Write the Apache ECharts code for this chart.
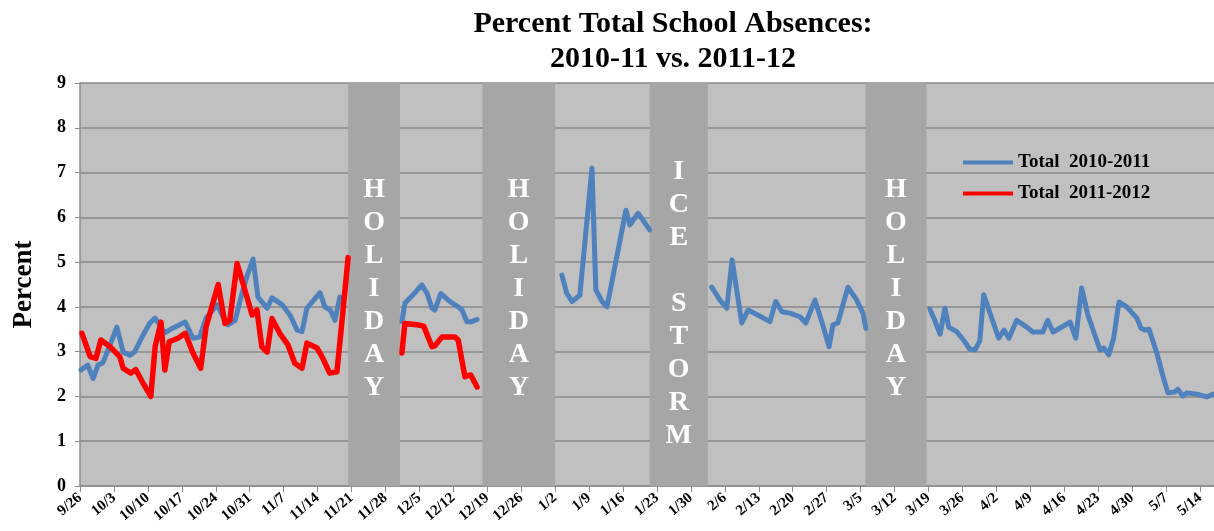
<!DOCTYPE html>
<html>
<head>
<meta charset="utf-8">
<script src="https://cdn.jsdelivr.net/npm/echarts@6/dist/echarts.min.js"></script>
<style>
html,body{margin:0;padding:0;background:#fff;}
#chart{width:1214px;height:531px;}
</style>
</head>
<body>
<div id="chart"></div>
<script>
// x values are day offsets from 9/26 (axis origin); one tick label per week
const weekLabels = ['9/26','10/3','10/10','10/17','10/24','10/31','11/7','11/14','11/21','11/28','12/5','12/12','12/19','12/26','1/2','1/9','1/16','1/23','1/30','2/6','2/13','2/20','2/27','3/5','3/12','3/19','3/26','4/2','4/9','4/16','4/23','4/30','5/7','5/14'];

// Total 2010-2011 (blue), in segments separated by breaks
const blueDays1 = [0.2,1.6,2.7,3.7,4.7,6.2,7.6,8.9,10.3,11.3,13.0,14.4,15.5,17.5,19.2,21.7,23.3,24.7,26.0,28.3,29.3,30.5,32.0,33.4,34.4,35.7,36.7,38.6,39.6,41.7,43.3,44.8,45.8,46.8,49.5,50.5,51.6,52.6,53.6];
const blueVals1 = [2.59,2.7,2.4,2.7,2.75,3.15,3.55,2.99,2.92,3.0,3.37,3.64,3.75,3.42,3.53,3.66,3.3,3.33,3.75,4.05,3.82,3.6,3.7,4.3,4.67,5.07,4.22,3.97,4.2,4.05,3.82,3.48,3.45,3.97,4.32,4.0,3.93,3.7,4.22];
const blueDays2 = [66.4,67.0,68.7,70.5,71.6,72.6,73.2,74.4,76.3,78.0,78.8,79.8,80.8,81.9];
const blueVals2 = [3.67,4.08,4.27,4.49,4.3,3.97,3.93,4.3,4.12,4.0,3.93,3.67,3.67,3.72];
const blueDays3 = [99.4,100.4,101.5,103.1,105.6,106.4,107.7,108.7,112.6,113.4,115.1,116.1,117.5];
const blueVals3 = [4.71,4.3,4.12,4.26,7.1,4.38,4.12,4.0,6.16,5.83,6.09,5.94,5.72];
const blueDays4 = [130.3,132.0,133.4,134.5,136.5,137.8,139.8,142.3,143.5,144.8,146.4,148.5,149.7,151.6,153.0,154.5,155.3,156.3,158.4,160.2,161.5,162.1];
const blueVals4 = [4.44,4.15,3.97,5.05,3.64,3.93,3.82,3.67,4.12,3.89,3.86,3.78,3.64,4.15,3.67,3.11,3.6,3.64,4.44,4.15,3.86,3.52];
const blueDays5 = [175.3,176.3,177.4,178.4,179.2,180.9,182.5,183.5,184.6,185.6,186.4,187.7,189.5,190.6,191.6,193.2,195.3,196.5,198.6,199.6,200.7,202.5,204.2,205.4,206.6,207.9,209.1,210.4,211.2,212.2,213.2,214.3,215.9,218.0,218.8,219.6,220.5,222.1,223.4,224.4,225.8,226.4,227.5,228.3,230.4,232.4,233.7];
const blueVals5 = [3.95,3.7,3.39,3.97,3.55,3.44,3.22,3.06,3.04,3.24,4.27,3.86,3.3,3.48,3.3,3.7,3.55,3.44,3.44,3.7,3.44,3.55,3.66,3.3,4.42,3.82,3.44,3.04,3.08,2.93,3.3,4.11,4.0,3.75,3.53,3.48,3.5,2.97,2.44,2.08,2.1,2.16,2.01,2.08,2.05,1.99,2.05];

// Total 2011-2012 (red)
const redDays1 = [0.4,2.1,3.3,4.3,6.2,8.2,8.9,10.5,11.5,13.0,14.6,15.5,16.7,17.5,18.4,20.2,21.7,23.3,24.9,26.0,28.5,29.9,30.9,32.4,33.6,35.5,36.5,37.5,38.6,39.6,41.2,42.9,44.3,45.8,46.8,48.9,50.1,51.5,53.0,54.2,55.3];
const redVals1 = [3.41,2.89,2.85,3.26,3.11,2.89,2.63,2.52,2.6,2.3,2.0,3.11,3.66,2.59,3.22,3.3,3.41,2.97,2.63,3.55,4.5,3.63,3.7,4.97,4.53,3.82,3.93,3.11,2.99,3.74,3.41,3.15,2.74,2.63,3.19,3.08,2.85,2.52,2.55,3.86,5.1];
const redDays2 = [66.4,67.0,69.5,70.9,72.6,73.2,74.7,77.3,78.0,79.4,80.6,81.9];
const redVals2 = [2.97,3.63,3.6,3.57,3.11,3.13,3.33,3.33,3.26,2.44,2.48,2.21];

// closed periods (start day, end day, label)
const bandStart = [55.3, 83.0, 117.5, 162.0];
const bandEnd   = [66.0, 98.0, 129.5, 174.6];
const bandText  = ['HOLIDAY', 'HOLIDAY', 'ICE STORM', 'HOLIDAY'];

const seriesNames = ['Total  2010-2011', 'Total  2011-2012'];
const BLUE = '#4f81bd', RED = '#ff0000';
const SERIF = '"Liberation Serif", "Times New Roman", serif';

function pairs(xs, ys){ return xs.map((x,i)=>[x, ys[i]]); }

const chart = echarts.init(document.getElementById('chart'));

function lineSeries(name, color, width, xs, ys){
  return {
    name, type:'line', data: pairs(xs, ys), showSymbol:false, symbol:'none',
    lineStyle:{color, width, join:'round', cap:'round'}, itemStyle:{color},
    z:5, animation:false
  };
}

const bandData = bandStart.map((s,i)=>{
  const txt = bandText[i].split('').join('\n');
  const isIce = bandText[i] !== 'HOLIDAY';
  return [
    {xAxis:s, label:{show:true, position:'inside', formatter: txt, offset:[0, isIce ? 19 : 4]}},
    {xAxis:bandEnd[i]}
  ];
});

const option = {
  animation:false,
  backgroundColor:'#ffffff',
  title:{
    text:'Percent Total School Absences:\n2010-11 vs. 2011-12',
    left:668, top:2, textAlign:'center',
    textStyle:{fontFamily:SERIF, fontWeight:'bold', fontSize:30, lineHeight:35, color:'#000'}
  },
  legend:{
    data:seriesNames, orient:'vertical', left:958, top:148, itemGap:12,
    icon:'rect', itemWidth:50, itemHeight:4,
    textStyle:{fontFamily:SERIF, fontWeight:'bold', fontSize:19, color:'#000'}
  },
  grid:{left:80, right:0, top:83, bottom:45, show:true, backgroundColor:'#c0c0c0', borderWidth:0},
  xAxis:{
    type:'value', min:0, max:233.9, interval:7,
    axisLine:{show:true, lineStyle:{color:'#8c8c8c', width:1.5}},
    axisTick:{show:true, length:6, lineStyle:{color:'#8c8c8c'}},
    splitLine:{show:false},
    axisLabel:{
      rotate:40, margin:10, color:'#000', fontFamily:SERIF, fontWeight:'bold', fontSize:15,
      showMaxLabel:false,
      formatter:function(v){
        const k = Math.round(v/7);
        return Math.abs(v - k*7) < 0.01 && weekLabels[k] ? weekLabels[k] : '';
      }
    }
  },
  yAxis:{
    type:'value', min:0, max:9, interval:1,
    name:'Percent', nameLocation:'middle', nameRotate:90, nameGap:42,
    nameTextStyle:{fontFamily:SERIF, fontWeight:'bold', fontSize:27, color:'#000'},
    axisLine:{show:true, lineStyle:{color:'#8c8c8c', width:1.5}},
    axisTick:{show:true, length:5, lineStyle:{color:'#8c8c8c'}},
    splitLine:{show:true, lineStyle:{color:'#8a8a8a', width:1.5}},
    axisLabel:{margin:14, color:'#000', fontFamily:SERIF, fontWeight:'bold', fontSize:18}
  },
  series:[
    {
      name:'bands', type:'line', data:[], z:2, silent:true,
      markArea:{
        silent:true,
        itemStyle:{color:'#a6a6a6'},
        label:{color:'#ffffff', fontFamily:SERIF, fontWeight:'bold', fontSize:28, lineHeight:33, align:'center'},
        data:bandData
      }
    },
    lineSeries(seriesNames[0], BLUE, 5, blueDays1, blueVals1),
    lineSeries(seriesNames[0], BLUE, 5, blueDays2, blueVals2),
    lineSeries(seriesNames[0], BLUE, 5, blueDays3, blueVals3),
    lineSeries(seriesNames[0], BLUE, 5, blueDays4, blueVals4),
    lineSeries(seriesNames[0], BLUE, 5, blueDays5, blueVals5),
    lineSeries(seriesNames[1], RED, 5.5, redDays1, redVals1),
    lineSeries(seriesNames[1], RED, 5.5, redDays2, redVals2)
  ]
};
chart.setOption(option);
</script>
</body>
</html>
